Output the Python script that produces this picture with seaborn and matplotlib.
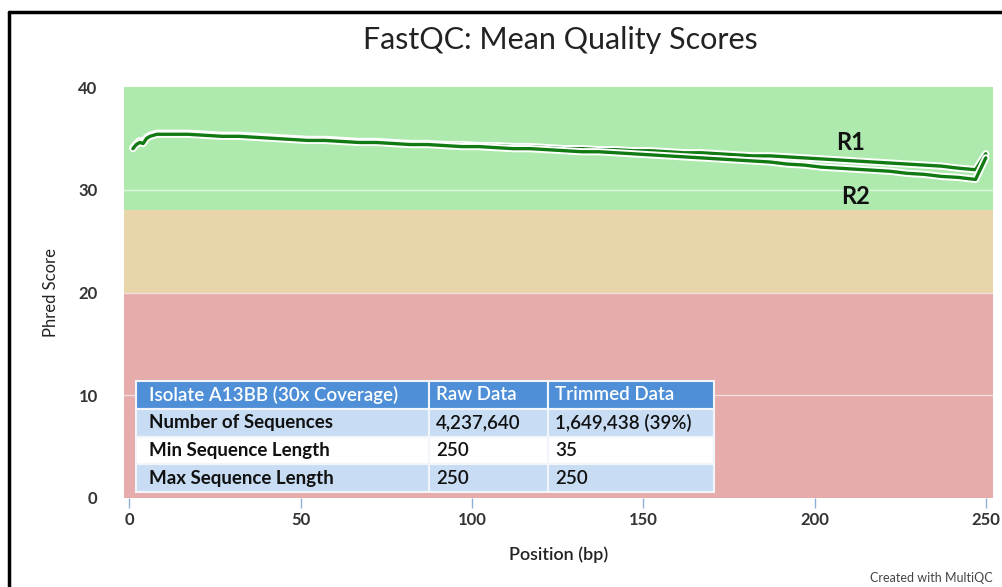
import matplotlib
matplotlib.use("Agg")
import matplotlib.pyplot as plt
import matplotlib.patheffects as pe
from matplotlib.lines import Line2D
import pandas as pd
import seaborn as sns

# ---------------- data ----------------
positions = list(range(1, 10)) + list(range(12, 248, 5)) + [250]

r1_scores = [34.1, 34.5, 34.8, 34.7, 35.1, 35.3, 35.4, 35.5, 35.5,
             35.5, 35.5, 35.4, 35.3, 35.3, 35.2, 35.1, 35.0, 34.9, 34.9,
             34.8, 34.7, 34.7, 34.6, 34.5, 34.5, 34.4, 34.4, 34.3, 34.3,
             34.2, 34.2, 34.1, 34.0, 34.0, 33.9, 33.9, 33.8, 33.8, 33.7,
             33.6, 33.6, 33.5, 33.4, 33.3, 33.3, 33.2, 33.1, 33.0, 32.9,
             32.8, 32.7, 32.6, 32.5, 32.4, 32.3, 32.1, 31.95,
             33.5]

r2_scores = [34.0, 34.4, 34.6, 34.5, 35.0, 35.2, 35.3, 35.4, 35.4,
             35.4, 35.4, 35.3, 35.2, 35.2, 35.1, 35.0, 34.9, 34.8, 34.8,
             34.7, 34.6, 34.6, 34.5, 34.4, 34.4, 34.3, 34.2, 34.2, 34.1,
             34.0, 34.0, 33.9, 33.8, 33.7, 33.7, 33.6, 33.5, 33.4, 33.3,
             33.2, 33.1, 33.0, 32.9, 32.8, 32.7, 32.5, 32.4, 32.2, 32.1,
             32.0, 31.9, 31.8, 31.6, 31.5, 31.3, 31.2, 31.0,
             33.1]

read_names = ["R1", "R2"]
x_ticks = [0, 50, 100, 150, 200, 250]
y_ticks = [0, 10, 20, 30, 40]

table_header = ["Isolate A13BB (30x Coverage)", "Raw Data", "Trimmed Data"]
table_rows = [
    ["Number of Sequences", "4,237,640", "1,649,438 (39%)"],
    ["Min Sequence Length", "250", "35"],
    ["Max Sequence Length", "250", "250"],
]

df = pd.concat([
    pd.DataFrame({"Position": positions, "Score": r1_scores, "Read": "R1"}),
    pd.DataFrame({"Position": positions, "Score": r2_scores, "Read": "R2"}),
], ignore_index=True)

# ---------------- style ----------------
sns.set_theme(style="white")
plt.rcParams['font.family'] = ['Lato', 'DejaVu Sans']

W, H = 1003, 587
fig = plt.figure(figsize=(W / 100, H / 100), dpi=100)
fig.patch.set_facecolor("white")

ax = fig.add_axes([124 / W, 1 - 498 / H, (993 - 124) / W, (498 - 87) / H])

# quality bands
ax.axhspan(28, 40, color="#aeeaae", zorder=0, lw=0)
ax.axhspan(20, 28, color="#e8d6aa", zorder=0, lw=0)
ax.axhspan(0, 20, color="#e6abab", zorder=0, lw=0)
for yv in [10, 20, 30]:
    ax.axhline(yv, color="white", lw=1.0, alpha=0.6, zorder=1)

n_before = len(ax.lines)
sns.lineplot(data=df, x="Position", y="Score", hue="Read",
             palette={"R1": "#127a12", "R2": "#127a12"},
             legend=False, ax=ax, linewidth=2.4, zorder=3)
for ln in ax.lines[n_before:]:
    ln.set_path_effects([pe.Stroke(linewidth=5.2, foreground="white"), pe.Normal()])

ax.text(210.5, 34.55, "R1", fontsize=17, fontweight="bold", color="#111111",
        ha="center", va="center", zorder=4)
ax.text(212, 29.3, "R2", fontsize=17, fontweight="bold", color="#111111",
        ha="center", va="center", zorder=4)

ax.set_xlim(-1.6, 252.1)
ax.set_ylim(0, 40)
ax.set_xticks(x_ticks)
ax.set_yticks(y_ticks)
ax.set_xticklabels([str(t) for t in x_ticks], fontsize=12, fontweight="bold", color="#333333")
ax.set_yticklabels([str(t) for t in y_ticks], fontsize=12, fontweight="bold", color="#333333")
ax.tick_params(axis="x", length=7, width=1, color="#8fb0d6", pad=3, bottom=True, direction="out")
ax.tick_params(axis="y", length=0, pad=19)
for s in ax.spines.values():
    s.set_visible(False)
ax.grid(False)

ax.set_xlabel("Position (bp)", fontsize=13, fontweight="semibold", color="#222222", labelpad=13)
ax.set_ylabel("Phred Score", fontsize=12, color="#222222", labelpad=14)

# table
col_w = [293, 119, 166]
tbl = ax.table(cellText=table_rows, colLabels=table_header, cellLoc="left",
               colLoc="left",
               colWidths=[c / 578 for c in col_w],
               bbox=[(136 - 124) / 869, (498 - 492) / 411, (714 - 136) / 869, (492 - 381) / 411])
tbl.auto_set_font_size(False)
pads = [13 / 293, 7 / 119, 7 / 166]
row_colors = ["#c8ddf4", "#ffffff", "#c8ddf4"]
for (r, c), cell in tbl.get_celld().items():
    cell.set_edgecolor("#f2f6fb")
    cell.set_linewidth(1.5)
    cell.PAD = pads[c]
    t = cell.get_text()
    if r == 0:
        cell.set_facecolor("#4e8fd7")
        t.set_color("white")
        t.set_fontsize(13.5)
        t.set_fontweight("semibold")
    else:
        cell.set_facecolor(row_colors[r - 1])
        t.set_color("#111111")
        t.set_fontsize(13.5)
        t.set_fontweight("bold" if c == 0 else "semibold")
tbl.set_zorder(5)

# title and credits
fig.text(560 / W, 1 - 40 / H, "FastQC: Mean Quality Scores", fontsize=22,
         color="#222222", ha="center", va="center")
fig.text(993 / W, 1 - 578 / H, "Created with MultiQC", fontsize=9,
         color="#444444", ha="right", va="center")

# outer frame (left & top)
fig.add_artist(Line2D([9 / W, 9 / W], [0, 1 - 12 / H], transform=fig.transFigure,
                      color="black", lw=2.5))
fig.add_artist(Line2D([9 / W, 1], [1 - 12 / H, 1 - 12 / H], transform=fig.transFigure,
                      color="black", lw=2.5))

fig.savefig("out.png", dpi=100)
